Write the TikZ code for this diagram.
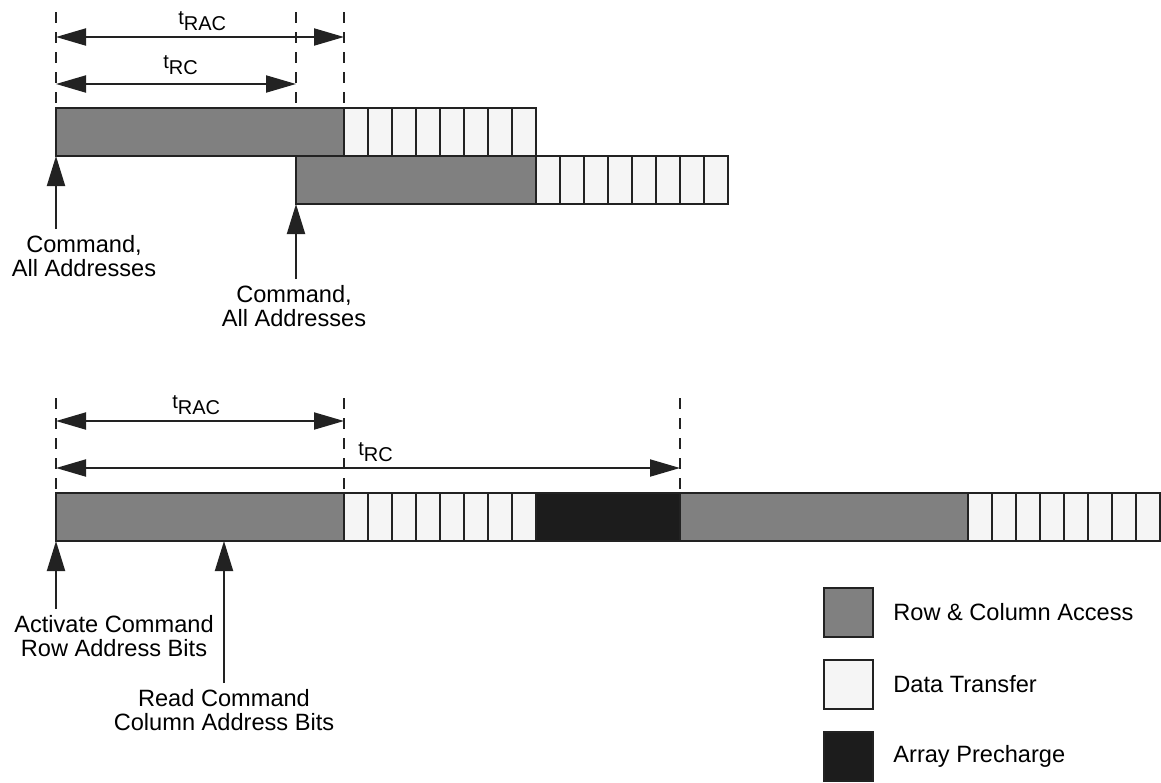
\documentclass[tikz,border=0pt]{standalone}
\usepackage{fontspec}
\setmainfont{Liberation Sans}
\usetikzlibrary{arrows.meta,positioning}
\definecolor{accgray}{HTML}{808080}
\definecolor{xferwhite}{HTML}{F5F5F5}
\definecolor{prechblack}{HTML}{1C1C1C}
\definecolor{edgeblack}{HTML}{222222}
\newcommand{\tsub}[1]{t\raisebox{-3pt}{#1}}
\tikzset{cell/.style={draw=edgeblack,line width=1pt,inner sep=0pt,outer sep=0pt,minimum height=24pt,anchor=north west},
access/.style={cell,fill=accgray},
xfer/.style={cell,fill=xferwhite,minimum width=12pt},
precharge/.style={cell,fill=prechblack},
guide/.style={draw=edgeblack,line width=0.9pt,dash pattern=on 5.5pt off 4.5pt},
dim/.style={{Triangle[length=15pt,width=8.5pt]}-{Triangle[length=15pt,width=8.5pt]},line width=1pt,draw=edgeblack},
cmd/.style={-{Triangle[length=15pt,width=9pt]},line width=1pt,draw=edgeblack},
tlabel/.style={font=\fontsize{10}{12}\selectfont,inner sep=0pt,anchor=base west},
cmdlabel/.style={font=\fontsize{11.8}{12}\selectfont,align=center,inner sep=0pt,outer sep=3pt,anchor=north},
keybox/.style={cell,minimum width=24.5pt,minimum height=24.5pt},
keytext/.style={font=\fontsize{11.8}{14}\selectfont,inner sep=0pt,anchor=west}}
\begin{document}
\begin{tikzpicture}[x=0.5pt,y=-0.5pt]
\useasboundingbox (0,0) rectangle (1161,782);

% upper timing: two overlapped accesses
\node[access,minimum width=144pt] (accA) at (56,108) {};
\foreach \i in {0,...,7} \node[xfer] (xa\i) at ({344+24*\i},108) {};
\node[access,minimum width=120pt] (accB) at (296,156) {};
\foreach \i in {0,...,7} \node[xfer] (xb\i) at ({536+24*\i},156) {};

\coordinate (ga) at (56,12);
\coordinate (gb) at (296,12);
\coordinate (gc) at (344,12);
\draw[guide] (ga) -- (accA.north west);
\draw[guide] (gb) -- (accB.north west |- accA.north);
\draw[guide] (gc) -- (accA.north east);
\draw[dim] (56,37) -- (344,37);
\draw[dim] (56,84) -- (296,84);
\node[tlabel] (racA) at (178,24) {\tsub{RAC}};
\node[tlabel] (rcA) at (163,68) {\tsub{RC}};

\node[cmdlabel] (cmdA) at (84,229) {Command,\\All Addresses};
\node[cmdlabel] (cmdB) at (294,279) {Command,\\All Addresses};
\draw[cmd] (accA.south west |- cmdA.north) -- (accA.south west);
\draw[cmd] (accB.south west |- cmdB.north) -- (accB.south west);

% lower timing: access, transfer, precharge
\node[access,minimum width=144pt] (accC) at (56,493) {};
\foreach \i in {0,...,7} \node[xfer] (xc\i) at ({344+24*\i},493) {};
\node[precharge,minimum width=72pt] (pre) at (536,493) {};
\node[access,minimum width=144pt] (accD) at (680,493) {};
\foreach \i in {0,...,7} \node[xfer] (xd\i) at ({968+24*\i},493) {};

\coordinate (gd) at (56,398);
\coordinate (ge) at (344,398);
\coordinate (gf) at (680,398);
\draw[guide] (gd) -- (accC.north west);
\draw[guide] (ge) -- (accC.north east);
\draw[guide] (gf) -- (accD.north west);
\draw[dim] (56,421) -- (344,421);
\draw[dim] (56,468) -- (680,468);
\node[tlabel] (racC) at (172,408) {\tsub{RAC}};
\node[tlabel] (rcC) at (358,455) {\tsub{RC}};

\coordinate (rd) at (224,541);
\node[cmdlabel] (act) at (114,609) {Activate Command\\Row Address Bits};
\node[cmdlabel] (rdc) at (224,683) {Read Command\\Column Address Bits};
\draw[cmd] (accC.south west |- act.north) -- (accC.south west);
\draw[cmd] (rdc.north) -- (rd);

% key
\node[keybox,fill=accgray] (keyAcc) at (824,588) {};
\node[keybox,fill=xferwhite] (keyXfer) at (824,660) {};
\node[keybox,fill=prechblack] (keyPre) at (824,732) {};
\node[keytext,right=10pt of keyAcc] (tAcc) {Row \& Column Access};
\node[keytext,right=10pt of keyXfer] (tXfer) {Data Transfer};
\node[keytext,right=10pt of keyPre] (tPre) {Array Precharge};
\end{tikzpicture}
\end{document}
